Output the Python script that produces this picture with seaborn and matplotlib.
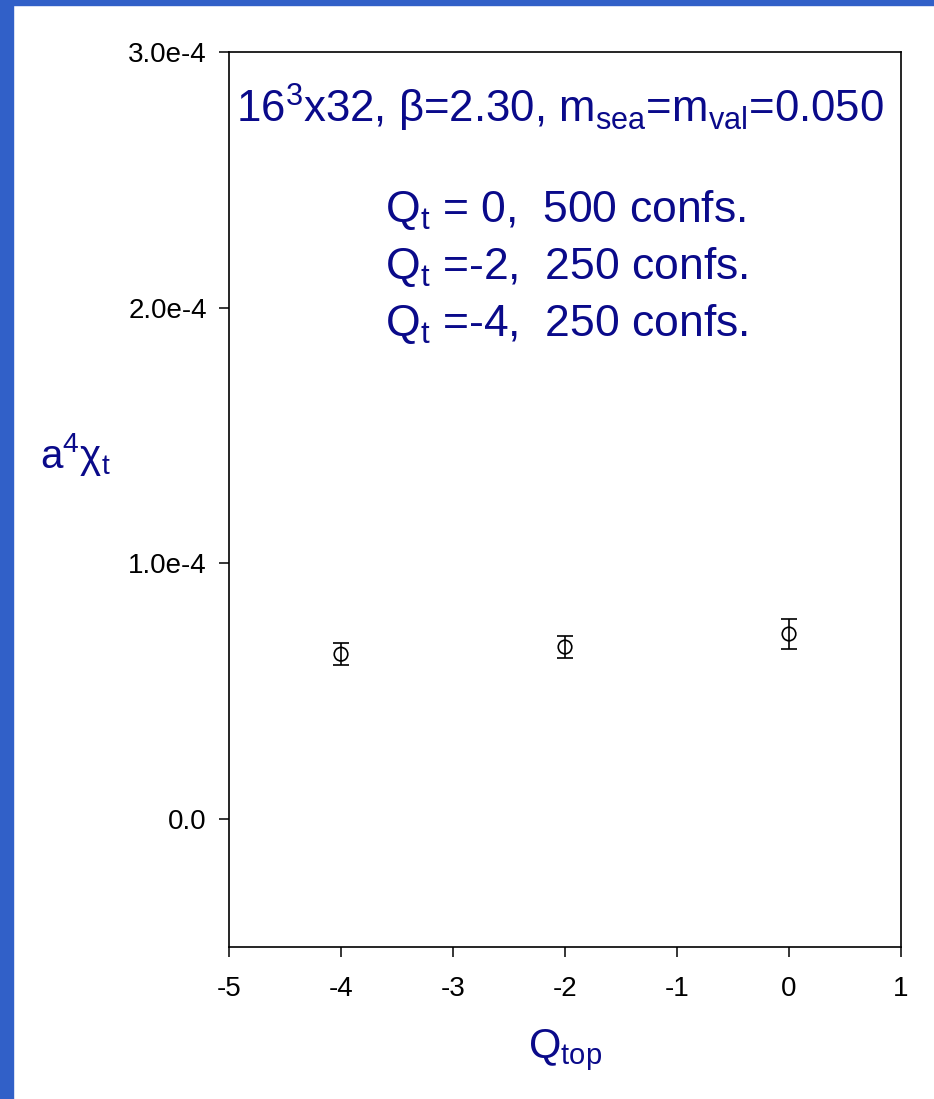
import matplotlib
matplotlib.use("Agg")
import matplotlib.pyplot as plt
import seaborn as sns
import pandas as pd
from matplotlib.patches import Rectangle

# datos
q_top = [-4, -2, 0]
chi_t = [0.645e-4, 0.673e-4, 0.724e-4]
chi_err = [0.042e-4, 0.042e-4, 0.057e-4]

x_ticks = [-5, -4, -3, -2, -1, 0, 1]
y_ticks = [0.0, 1.0e-4, 2.0e-4, 3.0e-4]
y_tick_labels = ["0.0", "1.0e-4", "2.0e-4", "3.0e-4"]

titulo = (r"16$\mathregular{^3}$x32, β=2.30, m$\mathregular{_{sea}}$"
          r"=m$\mathregular{_{val}}$=0.050")
info_lines = [
    r"Q$\mathregular{_t}$ = 0,  500 confs.",
    r"Q$\mathregular{_t}$ =-2,  250 confs.",
    r"Q$\mathregular{_t}$ =-4,  250 confs.",
]

sns.set_style("ticks")
plt.rcParams["font.family"] = ["Liberation Sans", "DejaVu Sans"]
plt.rcParams["mathtext.fontset"] = "custom"
plt.rcParams["mathtext.rm"] = "Liberation Sans"
plt.rcParams["mathtext.it"] = "Liberation Sans"
plt.rcParams["mathtext.bf"] = "Liberation Sans:bold"

navy = "#0a0a8a"
borde = "#3160c8"

df = pd.DataFrame({"Q": q_top, "chi": chi_t, "err": chi_err})

fig = plt.figure(figsize=(9.34, 10.99), dpi=100)
ax = fig.add_axes([0.2452, 0.1383, 0.7195, 0.8144])

# barras de error
ax.errorbar(df["Q"], df["chi"], yerr=df["err"], fmt="none",
            ecolor="black", elinewidth=1.2, capsize=5.5, capthick=1.2, zorder=2)
sns.scatterplot(data=df, x="Q", y="chi", ax=ax, marker="o", s=95,
                facecolor="none", edgecolor="black", linewidth=1.2, zorder=3)

ax.set_xlim(-5, 1)
ax.set_ylim(-0.5e-4, 3.0e-4)
ax.set_xticks(x_ticks)
ax.set_xticklabels([str(t) for t in x_ticks])
ax.set_yticks(y_ticks)
ax.set_yticklabels(y_tick_labels)
ax.tick_params(axis="both", direction="out", length=7, width=1.1,
               labelsize=20, colors="black")
ax.tick_params(axis="x", pad=14)
ax.tick_params(axis="y", pad=9)

for s in ax.spines.values():
    s.set_linewidth(1.2)
    s.set_color("black")

ax.set_xlabel(r"Q$\mathregular{_{top}}$", fontsize=30, color=navy)
ax.set_ylabel(r"a$\mathregular{^4}$χ$\mathregular{_t}$", fontsize=29, color=navy,
              rotation=0, va="center")
ax.xaxis.set_label_coords(0.5, -0.09)
ax.yaxis.set_label_coords(-0.229, 0.55)

ax.text(0.4926, 0.937, titulo,
        transform=ax.transAxes, ha="center", va="center",
        fontsize=31.5, color=navy)
for i, linea in enumerate(info_lines):
    ax.text(0.232, 0.8235 - i * 0.0635, linea, transform=ax.transAxes,
            ha="left", va="center", fontsize=32, color=navy)

# marco azul
fig.patches.append(Rectangle((0, 0), 0.0136, 1, transform=fig.transFigure,
                             color=borde, zorder=0))
fig.patches.append(Rectangle((0, 0.9955), 1, 0.0045, transform=fig.transFigure,
                             color=borde, zorder=0))

fig.savefig("out.png", dpi=100)
